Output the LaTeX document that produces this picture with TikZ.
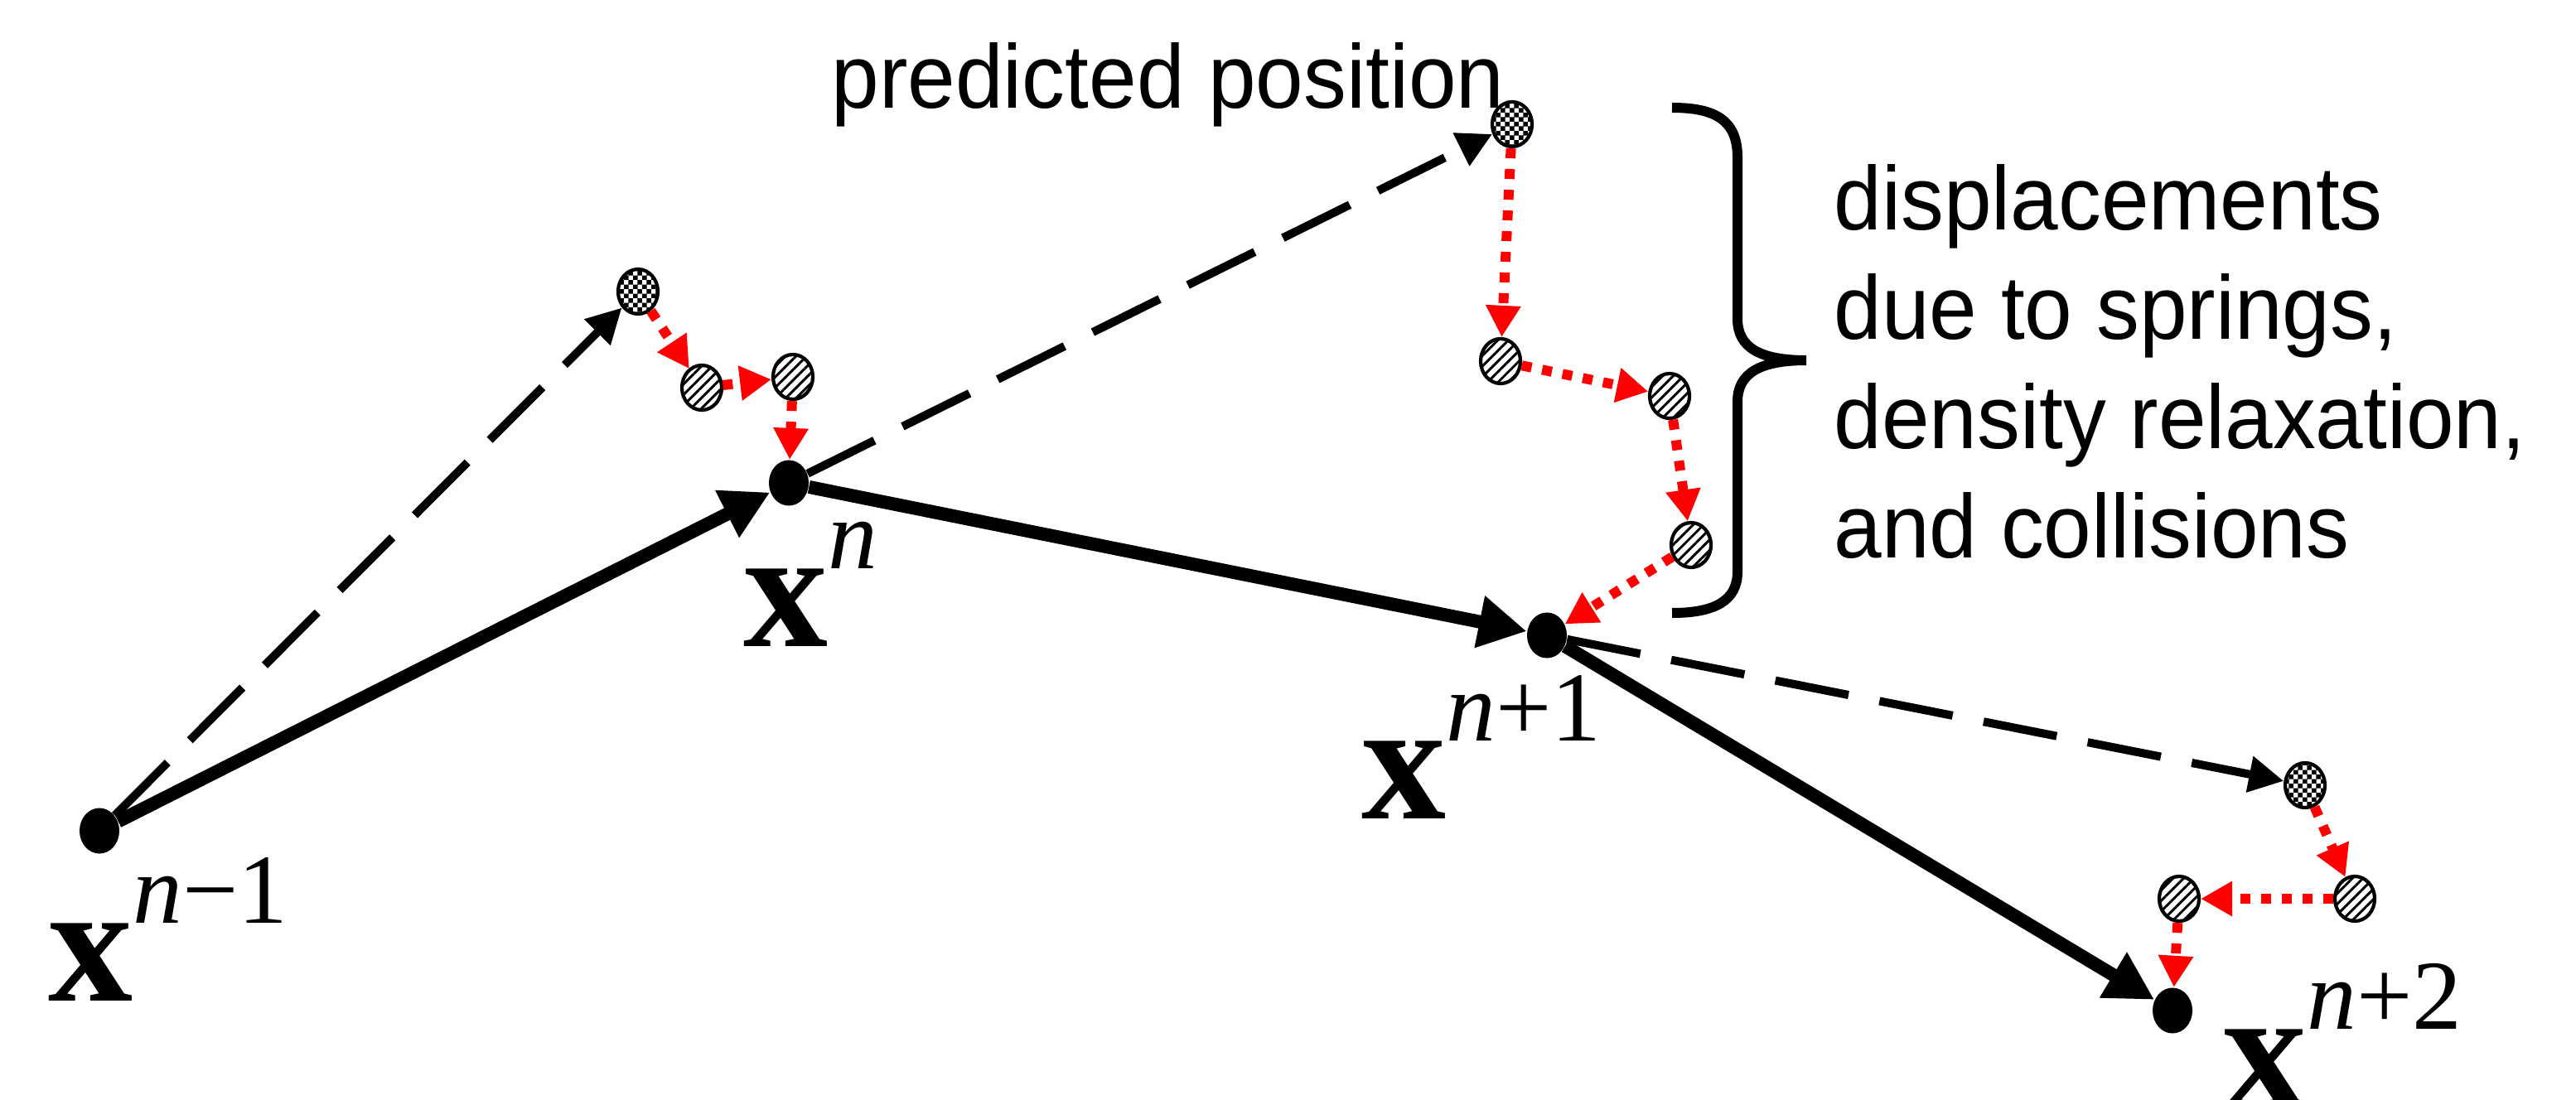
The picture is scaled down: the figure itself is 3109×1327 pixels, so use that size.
\documentclass[tikz,border=0pt]{standalone}
\usepackage{fontspec}
\setmainfont{Liberation Sans}[FakeStretch=0.95]
\newfontfamily\tnr{Liberation Serif}
\usetikzlibrary{arrows.meta,shapes.geometric,patterns,patterns.meta}
\pgfdeclarepatternformonly{finechecker}{\pgfpointorigin}{\pgfqpoint{3.2pt}{3.2pt}}%
  {\pgfqpoint{3.2pt}{3.2pt}}{%
  \pgfpathrectangle{\pgfpointorigin}{\pgfqpoint{1.65pt}{1.65pt}}%
  \pgfpathrectangle{\pgfqpoint{1.6pt}{1.6pt}}{\pgfqpoint{1.65pt}{1.65pt}}%
  \pgfusepath{fill}}
\newcommand{\ptlabel}[1]{{\fontsize{58}{60}\selectfont\tnr\bfseries x}%
  \raisebox{0.93cm}{\fontsize{34}{40}\selectfont\tnr #1}}

\begin{document}
\begin{tikzpicture}[x=0.01cm, y=-0.01cm,
  pnt/.style={ellipse, fill=black, inner sep=0pt,
              minimum width=0.48cm, minimum height=0.55cm},
  prd/.style={ellipse, draw, line width=1.2pt, pattern=finechecker,
              inner sep=0pt, minimum width=0.48cm, minimum height=0.54cm},
  dsp/.style={ellipse, draw, line width=1.2pt,
              pattern={Lines[angle=45,distance=0.09cm,line width=0.03cm]},
              inner sep=0pt, minimum width=0.48cm, minimum height=0.54cm},
  lab/.style={anchor=base west, inner sep=0pt},
  note/.style={anchor=base west, inner sep=0pt, font=\fontsize{31}{37.5}\selectfont},
  move/.style={-{Triangle[length=0.58cm,width=0.6cm]}, line width=0.16cm},
  guess/.style={-{Triangle[length=0.42cm,width=0.42cm]}, line width=0.1cm,
                dash pattern=on 0.9cm off 0.38cm},
  fix/.style={-{Triangle[length=0.38cm,width=0.4cm]}, red, line width=0.12cm,
              dash pattern=on 0.12cm off 0.13cm}
]
\useasboundingbox (0,0) rectangle (3109,1327);
% ── Positions ─────────────────────────
\node[pnt] (xa) at (120,1003) {};
\node[pnt] (xb) at (952,583)  {};
\node[pnt] (xc) at (1867,767) {};
\node[pnt] (xd) at (2622,1220) {};
% ── Predicted positions ───────────────
\node[prd] (pa) at (770,352)  {};
\node[prd] (pb) at (1825,150) {};
\node[prd] (pc) at (2782,948) {};
% ── Intermediate displacements ────────
\node[dsp] (sa1) at (847,468)  {};
\node[dsp] (sa2) at (957,455)  {};
\node[dsp] (sb1) at (1811,436) {};
\node[dsp] (sb2) at (2015,478) {};
\node[dsp] (sb3) at (2041,658) {};
\node[dsp] (sc1) at (2842,1085) {};
\node[dsp] (sc2) at (2630,1085) {};
% ── Labels ────────────────────────────
\node[lab] (la) at (58,1208)   {\ptlabel{\textit{n}−1}};
\node[lab] (lb) at (897,780)   {\ptlabel{\textit{n}}};
\node[lab] (lc) at (1643,988)  {\ptlabel{\textit{n}+1}};
\node[lab] (ld) at (2682,1336) {\ptlabel{\textit{n}+2}};
\node[note] (pred) at (1003,130) {predicted position};
\node[note, align=left] (disp) at (2213,673)
  {displacements\\due to springs,\\density relaxation,\\and collisions};
% ── Brace ─────────────────────────────
\draw[line width=0.12cm] (2018,130) .. controls (2070,130) and (2097,145) .. (2097,190)
  -- (2097,385) .. controls (2097,420) and (2125,435) .. (2180,435)
  .. controls (2125,435) and (2097,450) .. (2097,485)
  -- (2097,690) .. controls (2097,725) and (2070,740) .. (2018,740);
% ── Arrows ────────────────────────────
\draw[move] (xa) -- (xb);
\draw[move] (xb) -- (xc);
\draw[move] (xc) -- (xd);
\draw[guess] (xa) -- (pa);
\draw[guess] (xb) -- (pb);
\draw[guess] (xc) -- (pc);
\draw[fix] (pa) -- (sa1);
\draw[fix] (sa1) -- (sa2);
\draw[fix] (sa2) -- (xb);
\draw[fix] (pb) -- (sb1);
\draw[fix] (sb1) -- (sb2);
\draw[fix] (sb2) -- (sb3);
\draw[fix] (sb3) -- (xc);
\draw[fix] (pc) -- (sc1);
\draw[fix] (sc1) -- (sc2);
\draw[fix] (sc2) -- (xd);
\end{tikzpicture}
\end{document}
